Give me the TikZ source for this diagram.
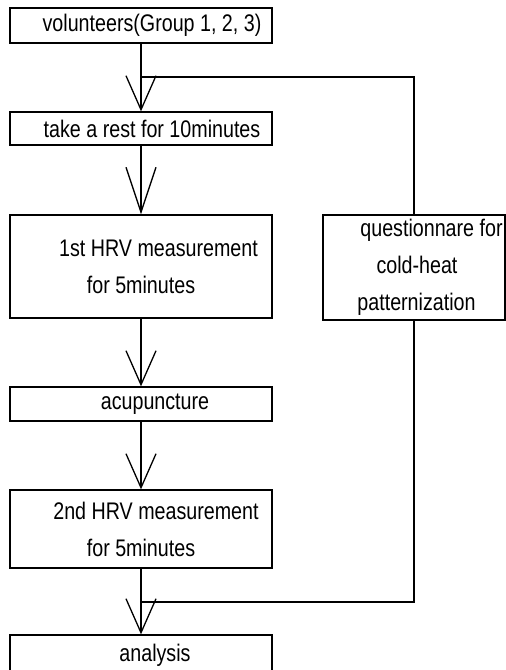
\documentclass[tikz,border=0pt]{standalone}
\usepackage{fontspec}
\setmainfont{Liberation Sans}[FakeStretch=0.82]
\usepackage{tikz}
\usetikzlibrary{arrows.meta,positioning}
\tikzset{box/.style={rectangle,draw,minimum width=262pt,inner sep=0pt,align=center,font=\fontsize{24}{37}\selectfont}}

\begin{document}
\begin{tikzpicture}[x=1pt,y=-1pt,line width=1.3pt,>={Straight Barb[length=34pt,width=30pt]}]
        \useasboundingbox (0,0) rectangle (506,670);
        \clip (0,0) rectangle (506,670);

		\node[box,minimum height=35pt] (vol) at (141,25.5) {\hspace*{22pt}volunteers(Group 1,\ 2,\ 3)};
        \node[box,minimum height=33pt] (rest) at (141,128.5) {\hspace*{22pt}take a rest for 10minutes};
        \node[box,minimum height=103pt] (hrv1) at (141,266.5) {\hspace*{35pt}1st HRV measurement\\for 5minutes};
        \node[box,minimum height=34pt] (acu) at (141,404) {\hspace*{28pt}acupuncture};
        \node[box,minimum height=78pt] (hrv2) at (141,529) {\hspace*{30pt}2nd HRV measurement\\for 5minutes};
        \node[box,minimum height=40pt] (ana) at (141,655) {\hspace*{28pt}analysis};
        \node[box,minimum width=182pt,minimum height=105pt] (quest) at (414,267.5) {\hspace*{35pt}questionnare for\\\hspace*{6pt}cold-heat\\\hspace*{5pt}patternization};

        \coordinate (split) at (141,77);
        \coordinate (merge) at (141,602);

        \draw [->] (vol) -- (rest);
		\draw [-{Straight Barb[length=45pt,width=30pt]}] (rest) -- (hrv1);
		\draw [->] (hrv1) -- (acu);
		\draw [->] (acu) -- (hrv2);
		\draw [->] (hrv2) -- (ana);
        \draw (split) -| (quest.north);
        \draw (quest.south) |- (merge);
    \end{tikzpicture}
\end{document}
